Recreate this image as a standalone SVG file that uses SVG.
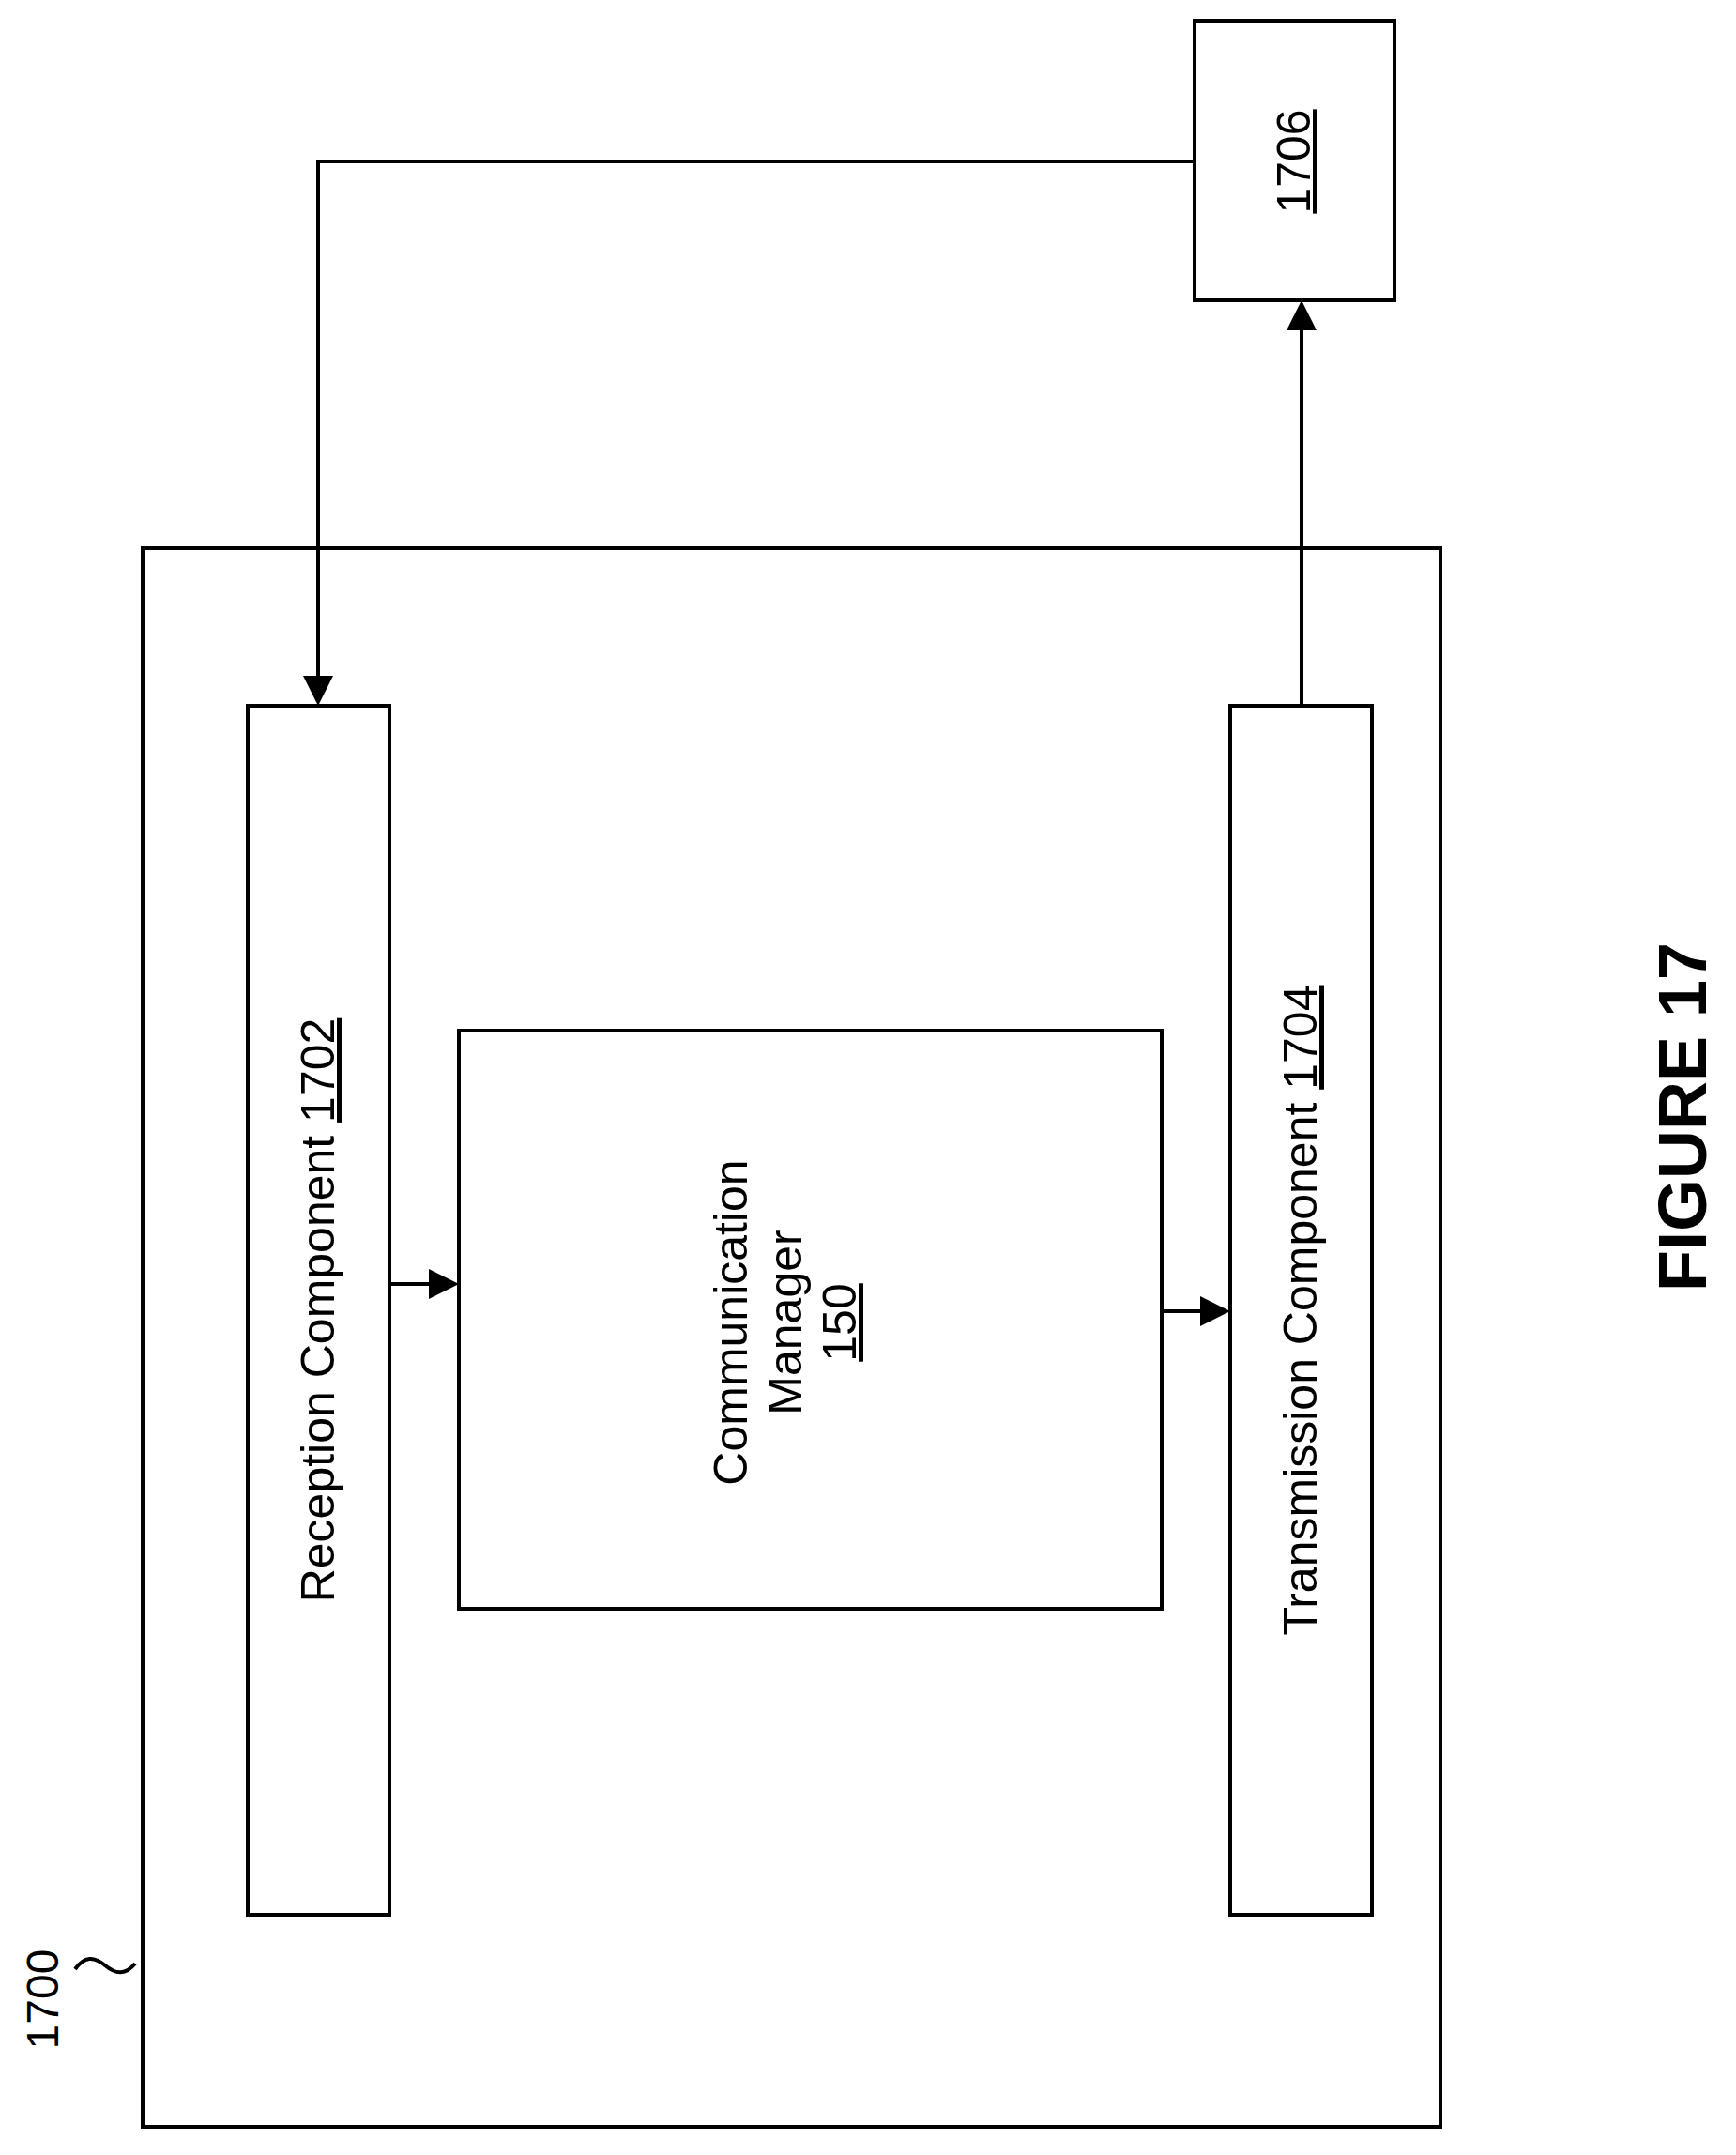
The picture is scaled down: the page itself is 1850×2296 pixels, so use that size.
<svg xmlns="http://www.w3.org/2000/svg" width="1850" height="2296" viewBox="0 0 1850 2296">
<style>
.b{fill:none;stroke:#000;stroke-width:4}
.l{fill:none;stroke:#000;stroke-width:4}
text{font-family:"Liberation Sans",Arial,sans-serif;font-size:50px;fill:#000;text-anchor:middle}
</style>
<defs><marker id="a" markerWidth="8" markerHeight="8" refX="7" refY="4" orient="auto" markerUnits="strokeWidth"><path d="M0,0 L8,4 L0,8 z" fill="#000"/></marker></defs>
<rect width="1850" height="2296" fill="#fff"/>
<g id="n1700"><rect class="b" x="152" y="584" width="1383" height="1682"/>
<text transform="translate(62,2130) rotate(-90)" style="font-size:48px">1700</text>
<path class="l" d="M80,2098 c10,-14 20,-14 32,-4 s22,10 32,-2"/></g>
<g id="n1702"><rect class="b" x="264" y="752" width="151" height="1288"/>
<text transform="translate(356,1396) rotate(-90)">Reception Component <tspan text-decoration="underline">1702</tspan></text></g>
<g id="n150"><rect class="b" x="489" y="1098" width="749" height="616"/>
<text transform="translate(796,1409) rotate(-90)">Communication</text>
<text transform="translate(854,1409) rotate(-90)">Manager</text>
<text transform="translate(912,1409) rotate(-90)" text-decoration="underline">150</text></g>
<g id="n1704"><rect class="b" x="1311" y="752" width="151" height="1288"/>
<text transform="translate(1403,1396) rotate(-90)">Transmission Component <tspan text-decoration="underline">1704</tspan></text></g>
<g id="n1706"><rect class="b" x="1273" y="22" width="213" height="298"/>
<text transform="translate(1396,172) rotate(-90)" text-decoration="underline">1706</text></g>
<g id="connectors">
<path class="l" d="M1273,172 H339 V748" marker-end="url(#a)"/>
<path class="l" d="M1387,752 V324" marker-end="url(#a)"/>
<path class="l" d="M415,1368 H485" marker-end="url(#a)"/>
<path class="l" d="M1238,1397 H1307" marker-end="url(#a)"/>
</g>
<text transform="translate(1818,1190) rotate(-90)" style="font-weight:bold;font-size:72px">FIGURE 17</text>
</svg>
